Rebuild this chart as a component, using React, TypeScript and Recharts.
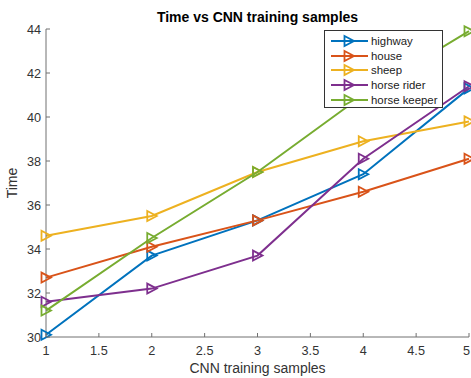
import { Legend, Line, LineChart, XAxis, YAxis } from "recharts";

const samples = [1, 2, 3, 4, 5];
const highway = [30.1, 33.7, 35.3, 37.4, 41.3];
const house = [32.7, 34.1, 35.3, 36.6, 38.1];
const sheep = [34.6, 35.5, 37.5, 38.9, 39.8];
const horseRider = [31.6, 32.2, 33.7, 38.1, 41.4];
const horseKeeper = [31.2, 34.5, 37.5, 41.0, 43.9];

const xTicks = [1, 1.5, 2, 2.5, 3, 3.5, 4, 4.5, 5];
const yTicks = [30, 32, 34, 36, 38, 40, 42, 44];

const series = [
  { key: "highway", name: "highway", color: "#0072BD", values: highway },
  { key: "house", name: "house", color: "#D95319", values: house },
  { key: "sheep", name: "sheep", color: "#EDB120", values: sheep },
  { key: "rider", name: "horse rider", color: "#7E2F8E", values: horseRider },
  { key: "keeper", name: "horse keeper", color: "#77AC30", values: horseKeeper },
];

const data = samples.map((x, i) => {
  const row: Record<string, number> = { x };
  series.forEach((s) => {
    row[s.key] = s.values[i];
  });
  return row;
});

const W = 471;
const H = 378;
const FONT = "'Liberation Sans', Arial, Helvetica, sans-serif";
const AXIS = "#707070";
const TEXT = "#333333";

const trianglePath = (cx: number, cy: number) =>
  `M${cx - 4.5},${cy - 5} L${cx + 5},${cy} L${cx - 4.5},${cy + 5} Z`;

const makeDot = (color: string) => (props: any) => {
  const { cx, cy, index } = props;
  if (cx == null || cy == null) return <g key={index} />;
  return (
    <path
      key={index}
      d={trianglePath(cx, cy)}
      fill="none"
      stroke={color}
      strokeWidth={1.8}
    />
  );
};

// ticks point into the plot box, as on all four sides of the frame
const BottomTick = (props: any) => {
  const { x, y, payload } = props;
  const last = payload.value === xTicks[xTicks.length - 1];
  return (
    <g>
      <line x1={x} y1={y} x2={x} y2={y - 4} stroke={AXIS} />
      <text
        x={last ? x + 1 : x}
        y={y + 18}
        textAnchor={last ? "end" : "middle"}
        fontSize={12.7}
        fontFamily={FONT}
        fill={TEXT}
      >
        {payload.value}
      </text>
    </g>
  );
};

const TopTick = (props: any) => {
  const { x, y } = props;
  return <line x1={x} y1={y} x2={x} y2={y + 4} stroke={AXIS} />;
};

const LeftTick = (props: any) => {
  const { x, y, payload } = props;
  return (
    <g>
      <line x1={x} y1={y} x2={x + 4} y2={y} stroke={AXIS} />
      <text
        x={x - 5}
        y={y + 4.5}
        textAnchor="end"
        fontSize={12.7}
        fontFamily={FONT}
        fill={TEXT}
      >
        {payload.value}
      </text>
    </g>
  );
};

const RightTick = (props: any) => {
  const { x, y } = props;
  return <line x1={x} y1={y} x2={x - 4} y2={y} stroke={AXIS} />;
};

const LegendBox = () => (
  <div
    style={{
      position: "relative",
      width: 119,
      height: 78,
      boxSizing: "border-box",
      border: "1px solid #333",
      background: "#fff",
      fontFamily: FONT,
    }}
  >
    {series.map((s, i) => {
      const cy = 10.7 + i * 14.8;
      return (
        <div key={s.key}>
          <svg
            width={44}
            height={14}
            style={{ position: "absolute", left: 5, top: cy - 7 - 1 }}
          >
            <line x1={1} y1={7} x2={38} y2={7} stroke={s.color} strokeWidth={2} />
            <path d={trianglePath(19, 7)} fill="none" stroke={s.color} strokeWidth={1.8} />
          </svg>
          <span
            style={{
              position: "absolute",
              left: 46,
              top: cy - 8 - 1,
              fontSize: 11.4,
              lineHeight: "16px",
              color: "#222",
              whiteSpace: "nowrap",
            }}
          >
            {s.name}
          </span>
        </div>
      );
    })}
  </div>
);

const TimeChart = () => {
  return (
    <div
      style={{
        position: "absolute",
        left: 0,
        top: 0,
        width: W,
        height: H,
        background: "#fff",
      }}
    >
      <LineChart
        width={W}
        height={H}
        data={data}
        margin={{ top: 29, right: 2, left: 0, bottom: 0 }}
      >
        <XAxis
          xAxisId="bottom"
          dataKey="x"
          type="number"
          domain={[1, 5]}
          ticks={xTicks}
          height={41}
          tickSize={0}
          tickMargin={0}
          tickLine={false}
          axisLine={{ stroke: AXIS }}
          tick={<BottomTick />}
          interval={0}
        />
        <XAxis
          xAxisId="top"
          dataKey="x"
          type="number"
          orientation="top"
          domain={[1, 5]}
          ticks={xTicks}
          height={0}
          tickSize={0}
          tickMargin={0}
          tickLine={false}
          axisLine={{ stroke: AXIS }}
          tick={<TopTick />}
          interval={0}
        />
        <YAxis
          yAxisId="left"
          type="number"
          domain={[30, 44]}
          ticks={yTicks}
          width={46}
          tickSize={0}
          tickMargin={0}
          tickLine={false}
          axisLine={{ stroke: AXIS }}
          tick={<LeftTick />}
          interval={0}
        />
        <YAxis
          yAxisId="right"
          type="number"
          orientation="right"
          domain={[30, 44]}
          ticks={yTicks}
          width={0}
          tickSize={0}
          tickMargin={0}
          tickLine={false}
          axisLine={{ stroke: AXIS }}
          tick={<RightTick />}
          interval={0}
        />
        {series.map((s) => (
          <Line
            key={s.key}
            xAxisId="bottom"
            yAxisId="left"
            dataKey={s.key}
            name={s.name}
            type="linear"
            stroke={s.color}
            strokeWidth={2}
            dot={makeDot(s.color)}
            activeDot={false}
            isAnimationActive={false}
          />
        ))}
        {/* layout/align chosen so the legend floats over the plot without reserving space */}
        <Legend
          layout="vertical"
          align="center"
          verticalAlign="middle"
          content={<LegendBox />}
          wrapperStyle={{ position: "absolute", left: 324, top: 30, width: 119, height: 78 }}
        />
      </LineChart>
      <svg
        width={W}
        height={H}
        style={{ position: "absolute", left: 0, top: 0, pointerEvents: "none" }}
      >
        <text
          x={257.5}
          y={22}
          textAnchor="middle"
          fontSize={14}
          fontWeight="bold"
          fontFamily={FONT}
          fill="#000"
        >
          Time vs CNN training samples
        </text>
        <text
          x={257.5}
          y={373}
          textAnchor="middle"
          fontSize={14}
          fontFamily={FONT}
          fill={TEXT}
        >
          CNN training samples
        </text>
        <text
          x={17}
          y={183}
          textAnchor="middle"
          fontSize={14}
          fontFamily={FONT}
          fill={TEXT}
          transform="rotate(-90 17 183)"
        >
          Time
        </text>
      </svg>
    </div>
  );
};

export default TimeChart;
